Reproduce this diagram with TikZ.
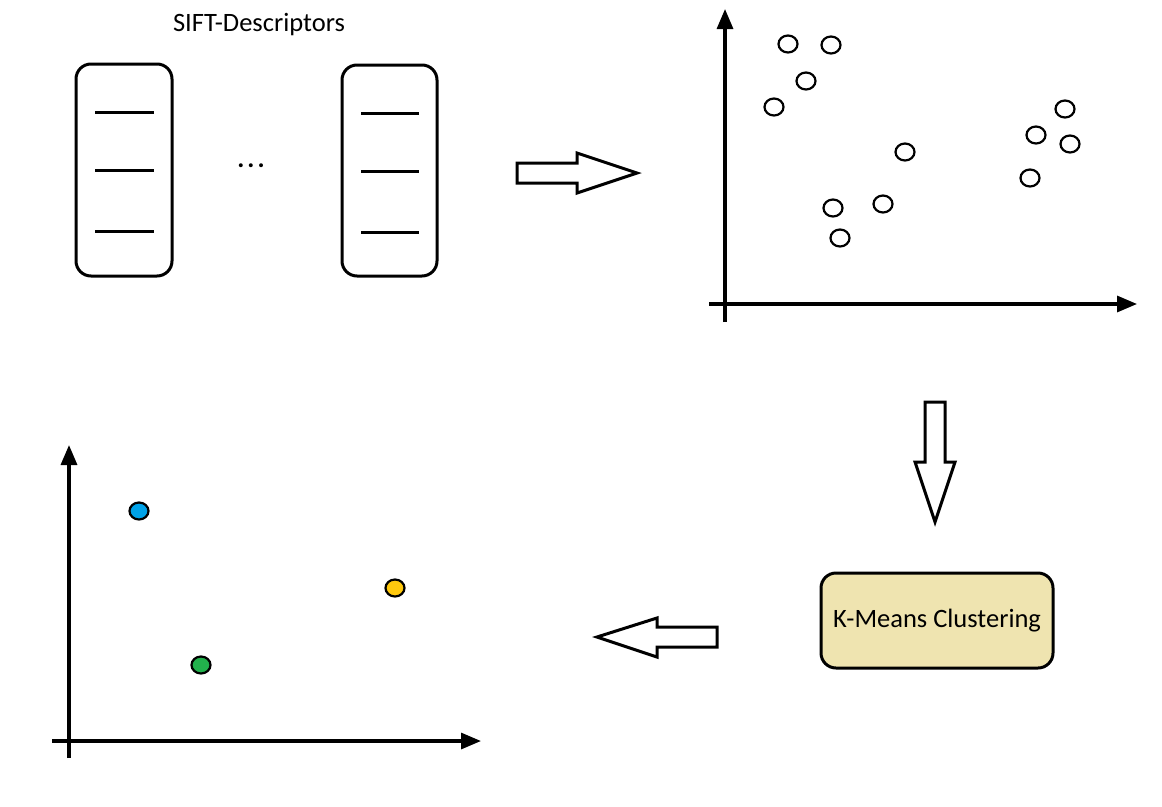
\documentclass[tikz,border=0pt]{standalone}
\usepackage{fontspec}
\setmainfont{Carlito}
\usetikzlibrary{arrows.meta,shapes.geometric}
\definecolor{kfill}{HTML}{EFE4B0}
\definecolor{pblue}{HTML}{00A2E8}
\definecolor{pyellow}{HTML}{FFC90E}
\definecolor{pgreen}{HTML}{22B14C}
\tikzset{
  desc/.style={draw,line width=3pt,rounded corners=15pt},
  entry/.style={line width=3pt},
  axis/.style={line width=3.2pt,-{Triangle[length=20pt,width=16pt]}},
  pt/.style={draw,line width=2.2pt,ellipse,minimum width=19pt,minimum height=17pt,inner sep=0pt},
  blockarrow/.style={draw,line width=3pt,fill=white,line join=miter},
  lbl/.style={font=\fontsize{26.5}{31}\selectfont}
}
\begin{document}
\begin{tikzpicture}[x=1pt,y=-1pt]
\useasboundingbox (0,0) rectangle (1162,806);
% title
\node[lbl] (title) at (259,25) {SIFT-Descriptors};
% descriptor boxes
\draw[desc] (76,64) rectangle (172,276);
\draw[entry] (95,112) -- (154,112);
\draw[entry] (95,170) -- (154,170);
\draw[entry] (95,231) -- (154,231);
\draw[desc] (342,65) rectangle (437,276);
\draw[entry] (361,113) -- (419,113);
\draw[entry] (361,171) -- (419,171);
\draw[entry] (361,232) -- (419,232);
\node[lbl,inner sep=0pt] (dots) at (251,166) {\textbf{.\kern3pt.\kern3pt.}};
% right block arrow
\draw[blockarrow] (517,163) -- (577,163) -- (577,153) -- (637,173) -- (577,193) -- (577,183) -- (517,183) -- cycle;
% top-right scatter
\draw[axis] (725,322) -- (725,9);
\draw[axis] (709,304) -- (1137,304);
\foreach \i/\x/\y in {a/788/44, b/831/45, c/806/81, d/774/107, e/905/152, f/833/208, g/883/204, h/840/238, i/1065/109, j/1036/135, k/1070/144, l/1030/178}
  \node[pt] (p\i) at (\x,\y) {};
% down block arrow
\draw[blockarrow] (925,402) -- (945,402) -- (945,462) -- (955,462) -- (935,522) -- (915,462) -- (925,462) -- cycle;
% k-means box
\node[draw,line width=3pt,rounded corners=15pt,fill=kfill,minimum width=232pt,minimum height=95pt,lbl] (km) at (937,620.5) {K-Means Clustering};
% left block arrow
\draw[blockarrow] (717,627) -- (657,627) -- (657,618) -- (597,637) -- (657,657) -- (657,647) -- (717,647) -- cycle;
% bottom-left scatter
\draw[axis] (69,758) -- (69,445);
\draw[axis] (52,741) -- (481,741);
\node[pt,fill=pblue] (cb) at (139,511) {};
\node[pt,fill=pyellow] (cy) at (395,588) {};
\node[pt,fill=pgreen] (cg) at (201,665) {};
\end{tikzpicture}
\end{document}
